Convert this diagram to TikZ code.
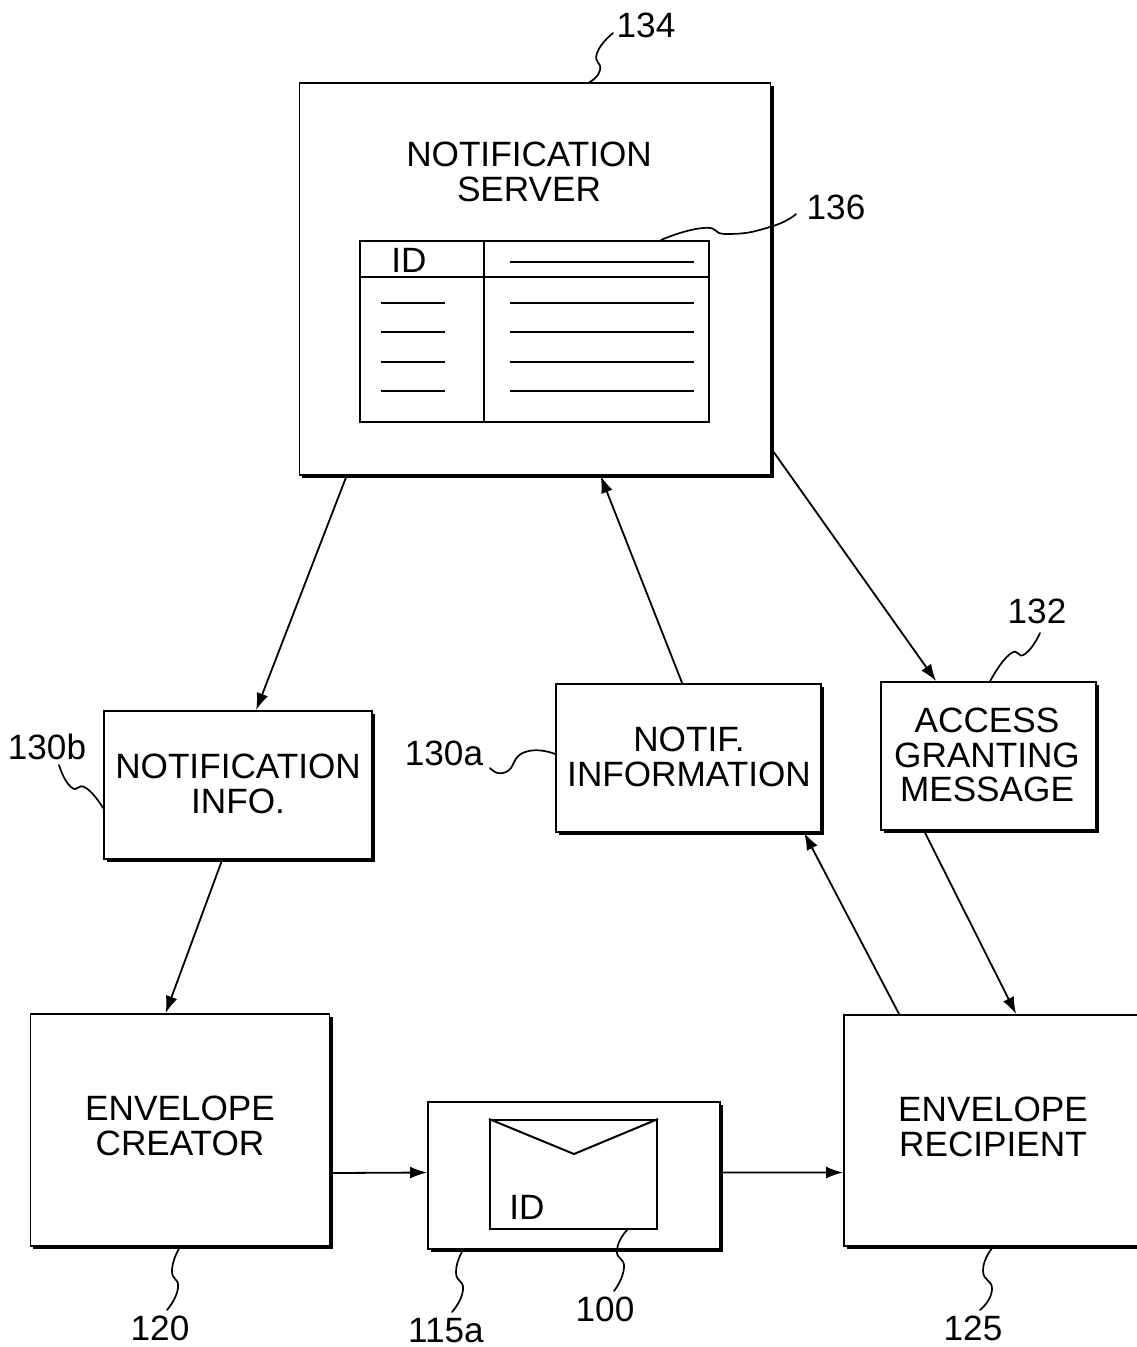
\documentclass[tikz,border=0pt]{standalone}
\usepackage{fontspec}
\setmainfont{Liberation Sans}
\usetikzlibrary{shadows}
\usetikzlibrary{arrows.meta}
\tikzset{
  box/.style={draw,line width=.017cm,fill=white,inner sep=0pt,
    drop shadow={shadow xshift=.03cm,shadow yshift=-.03cm,opacity=1,fill=black}},
  plainbox/.style={draw,line width=.02cm,fill=white,inner sep=0pt},
  edge/.style={line width=.02cm},
  txt/.style={align=center,inner sep=0pt,font=\fontsize{10}{9.9}\selectfont},
  flow/.style={line width=.018cm,-{Latex[length=.17cm,width=.12cm]}},
  rule/.style={line width=.015cm},
  lead/.style={line width=.017cm,line cap=round},
}
\begin{document}
\begin{tikzpicture}[x=.01cm,y=-.01cm]
\useasboundingbox (0,0) rectangle (1137,1347);
\clip (0,0) rectangle (1137,1347);

\node[box,minimum width=4.71cm,minimum height=3.92cm] (server) at (535,279) {};
\node[txt] (servertext) at (529,172) {NOTIFICATION\\SERVER};
\node[plainbox,minimum width=3.49cm,minimum height=1.81cm] (idtable) at (534.5,331.5) {};
\draw[edge] (360,277) -- (709,277);
\draw[edge] (484,241) -- (484,422);
\node[txt] (tableid) at (409,260) {ID};
\draw[rule] (510,262) -- (694,262);
\foreach \y in {303,332,362,391} {
  \draw[rule] (381,\y) -- (445,\y);
  \draw[rule] (510,\y) -- (694,\y);
}

\node[box,minimum width=2.68cm,minimum height=1.48cm] (infob) at (238,785) {};
\node[txt] (infobtext) at (238,784) {NOTIFICATION\\INFO.};
\node[box,minimum width=2.65cm,minimum height=1.48cm] (infoa) at (688.5,758) {};
\node[txt] (infoatext) at (689,757) {NOTIF.\\INFORMATION};
\node[box,minimum width=2.15cm,minimum height=1.48cm] (access) at (988.5,756) {};
\node[txt] (accesstext) at (987,755) {ACCESS\\GRANTING\\MESSAGE};

\node[box,minimum width=2.99cm,minimum height=2.32cm] (creator) at (180,1130) {};
\node[txt] (creatortext) at (180,1126) {ENVELOPE\\CREATOR};
\node[box,minimum width=2.92cm,minimum height=1.47cm] (carrier) at (574,1175.5) {};
\node[plainbox,minimum width=1.67cm,minimum height=1.09cm] (envelope) at (573.5,1174.5) {};
\draw[edge] (envelope.north west) -- (574,1154) -- (envelope.north east);
\node[txt] (envelopeid) at (527,1207) {ID};
\node[box,minimum width=2.98cm,minimum height=2.31cm] (recipient) at (993,1130.5) {};
\node[txt] (recipienttext) at (993,1127) {ENVELOPE\\RECIPIENT};

\draw[flow] ([xshift=.48cm]server.south west) -- ([xshift=1.53cm]infob.north west);
\draw[flow] ([xshift=1.27cm]infoa.north west) -- ([xshift=3.02cm]server.south west);
\draw[flow] ([yshift=.27cm]server.south east) -- ([xshift=.56cm]access.north west);
\draw[flow] ([xshift=1.19cm]infob.south west) -- ([xshift=1.36cm]creator.north west);
\draw[flow] ([xshift=.56cm]recipient.north west) -- ([xshift=2.49cm]infoa.south west);
\draw[flow] ([xshift=.44cm]access.south west) -- ([xshift=1.73cm]recipient.north west);
\draw[flow] ([yshift=-.43cm]creator.east) -- ([yshift=.03cm]carrier.west);
\draw[flow] ([yshift=.03cm]carrier.east) -- ([yshift=-.42cm]recipient.west);

\node[txt] (n134) at (646,25) {134};
\node[txt] (n136) at (836,207) {136};
\node[txt] (n132) at (1037,611) {132};
\node[txt] (n130a) at (444,753) {130a};
\node[txt] (n130b) at (47,747) {130b};
\node[txt] (n120) at (160,1328) {120};
\node[txt] (n115a) at (446,1331) {115a};
\node[txt] (n100) at (605,1309) {100};
\node[txt] (n125) at (973,1328) {125};

\coordinate (e134) at (613,33);
\coordinate (e136) at (796,214);
\coordinate (e132) at (1040,633);
\coordinate (e130a) at (490,768);
\coordinate (e130b) at (59,765);
\coordinate (e120) at (167,1310);
\coordinate (e115a) at (452,1312);
\coordinate (e100) at (614,1291);
\coordinate (e125) at (980,1310);

\draw[lead] plot[smooth,tension=1] coordinates {([xshift=2.91cm]server.north west) (600,70) (597,53) (e134)};
\draw[lead] plot[smooth,tension=1] coordinates {([xshift=3.02cm]idtable.north west) (703,228) (728,234) (770,227) (e136)};
\draw[lead] plot[smooth,tension=1] coordinates {([xshift=1.1cm]access.north west) (1010,654) (1025,654) (e132)};
\draw[lead] plot[smooth,tension=1] coordinates {(e130a) (506,772) (525,752) ([yshift=.04cm]infoa.west)};
\draw[lead] plot[smooth,tension=1] coordinates {(e130b) (71,787) (86,788) ([yshift=-.23cm]infob.west)};
\draw[lead] plot[smooth,tension=1] coordinates {(creator.south) (172,1270) (178,1288) (e120)};
\draw[lead] plot[smooth,tension=1] coordinates {([xshift=.36cm]carrier.south west) (456,1272) (463,1290) (e115a)};
\draw[lead] plot[smooth,tension=1] coordinates {([xshift=1.38cm]envelope.south west) (617,1250) (624,1268) (e100)};
\draw[lead] plot[smooth,tension=1] coordinates {(recipient.south) (983,1270) (992,1290) (e125)};
\end{tikzpicture}
\end{document}
